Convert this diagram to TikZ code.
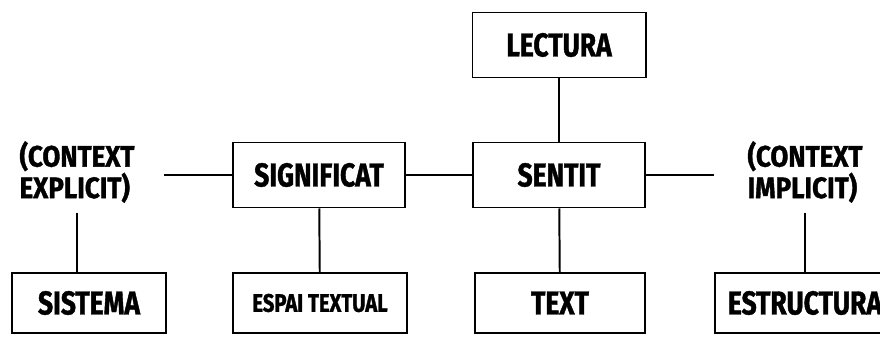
\documentclass[tikz,border=0pt]{standalone}
\usepackage{fontspec}
\newfontfamily\boxfont{Fira Sans}[FakeStretch=0.8,FakeBold=1.2]
\newfontfamily\ctxfont{Fira Sans}[FakeStretch=0.88,FakeBold=1.2]
\usetikzlibrary{positioning}

\begin{document}
\begin{tikzpicture}[x=0.025cm,y=-0.025cm,
	box/.style={draw,line width=1.4pt,minimum height=1.625cm,inner sep=0pt,
		font=\boxfont\bfseries\fontsize{23.5}{24}\selectfont},
	ctx/.style={align=left,inner sep=0pt,
		font=\ctxfont\bfseries\fontsize{21}{21.3}\selectfont}]
	\useasboundingbox (0,0) rectangle (880,336);
	\node[box,minimum width=4.325cm] (lectura) at (559,45) {LECTURA};
	\node[box,minimum width=4.3cm] (sentit) at (559,175) {SENTIT};
	\node[box,minimum width=4.3cm] (significat) at (319,175) {SIGNIFICAT};
	\node[ctx] (explicit) at (77,172) {(CONTEXT\\EXPLICIT)};
	\node[ctx] (implicit) at (805,172) {(CONTEXT\\IMPLICIT)};
	\node[box,minimum width=3.85cm,minimum height=1.5cm] (sistema) at (89,303) {SISTEMA};
	\node[box,minimum width=4.325cm,minimum height=1.5cm,font=\boxfont\bfseries\fontsize{18}{20}\selectfont] (espai) at (320,303) {ESPAI TEXTUAL};
	\node[box,minimum width=4.25cm,minimum height=1.5cm] (text) at (560,303) {TEXT};
	\node[box,minimum width=4.5cm,minimum height=1.5cm] (estructura) at (805,303) {ESTRUCTURA};

	\draw[line width=1.4pt] (lectura) -- (sentit);
	\draw[line width=1.4pt] (significat) -- (sentit);
	\draw[line width=1.4pt] (sentit) -- (text);
	\draw[line width=1.4pt] (significat) -- (espai);
	\draw[line width=0.9pt] (significat.west) -- ++(-68,0) coordinate (ex);
	\draw[line width=0.9pt] (sentit.east) -- ++(68,0) coordinate (im);
	\draw[line width=1.2pt] ([yshift=-0.25cm]explicit.south) -- (explicit.south |- sistema.north);
	\draw[line width=1.2pt] ([yshift=-0.25cm]implicit.south) -- (implicit.south |- estructura.north);
\end{tikzpicture}
\end{document}
